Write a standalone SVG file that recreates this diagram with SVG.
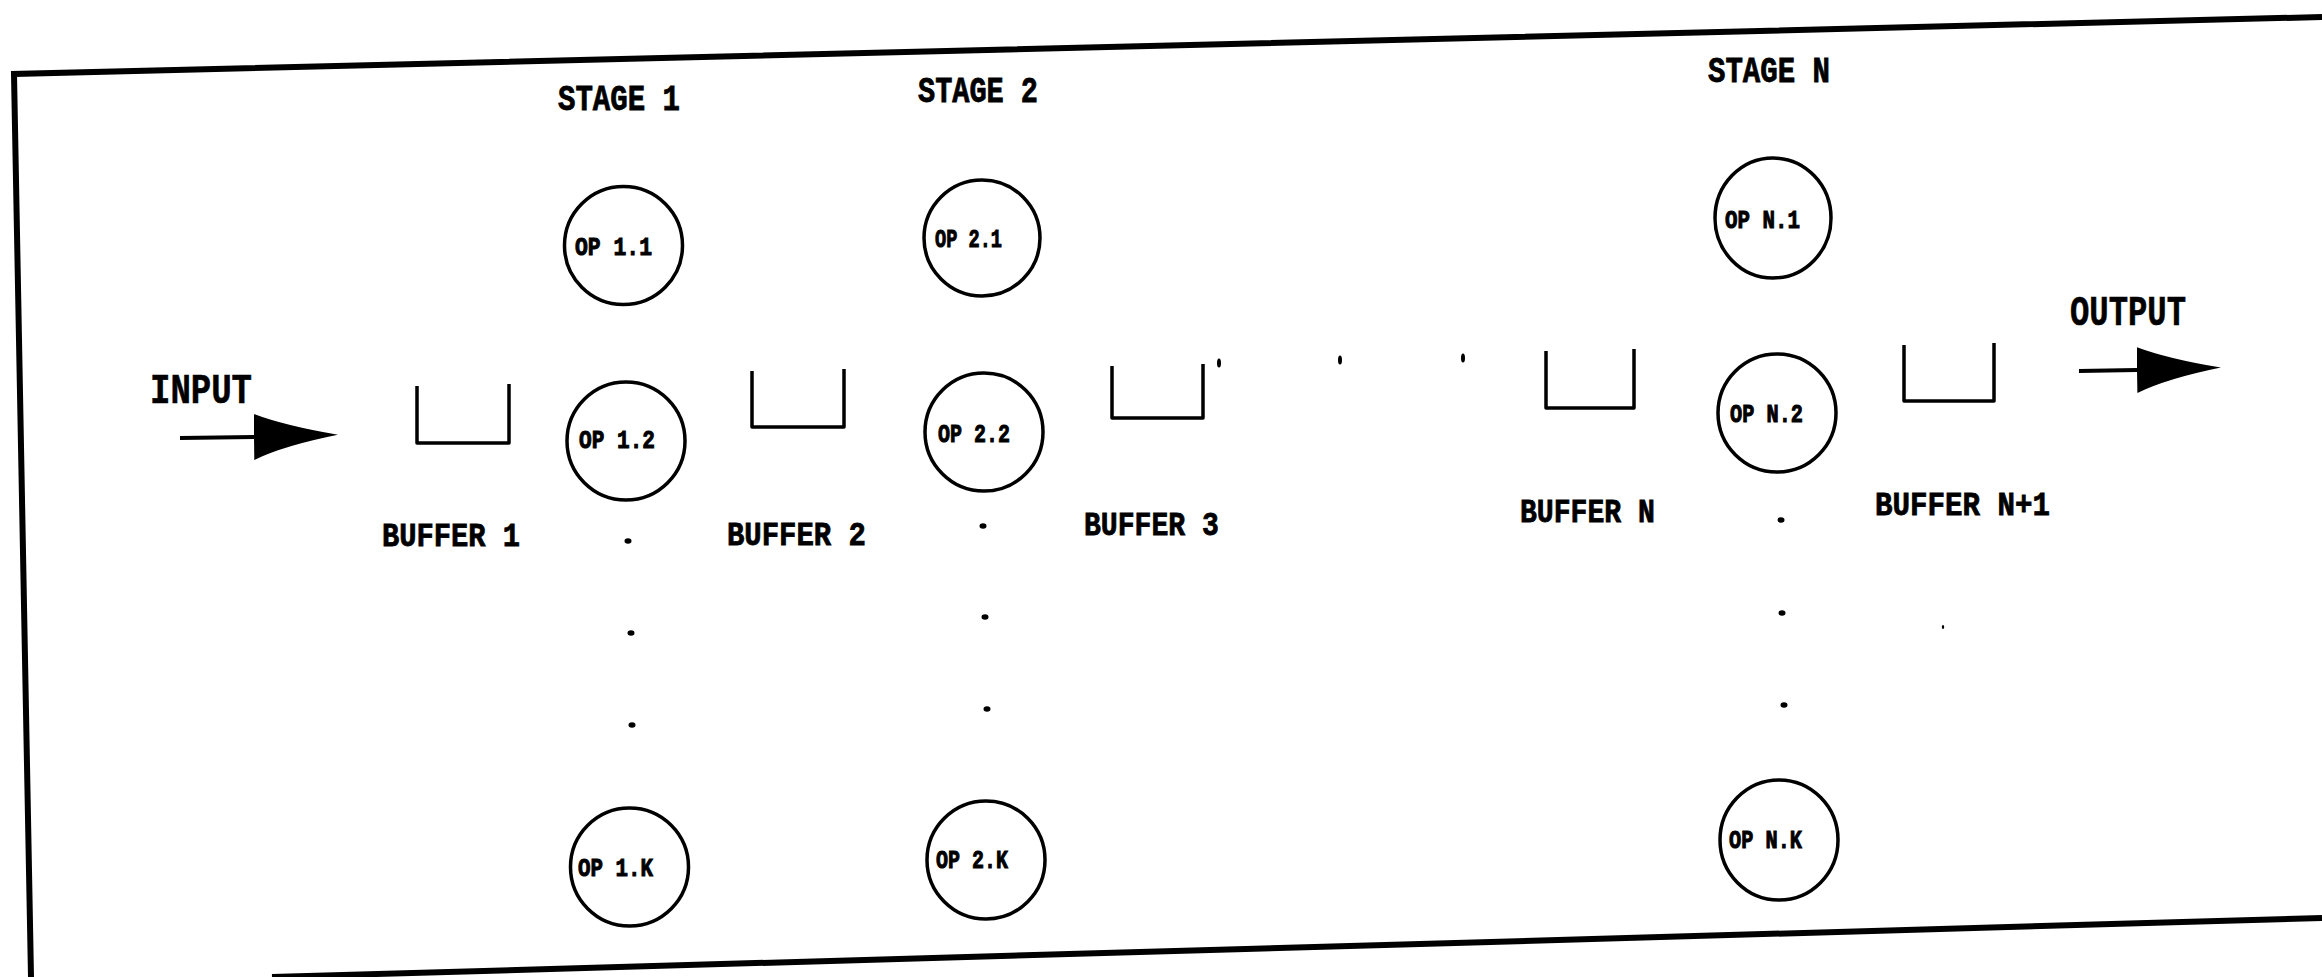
<svg xmlns="http://www.w3.org/2000/svg" width="2322" height="977" viewBox="0 0 2322 977">
<style>
text{font-family:"Liberation Mono","DejaVu Sans Mono",monospace;font-weight:bold;fill:#000;stroke:#000;stroke-width:0.8}
.stage{font-size:36px}
.io{font-size:42px;stroke-width:0.6}
.buf{font-size:34px}
.op{font-size:26px;stroke-width:1}
.opc{fill:none;stroke:#000;stroke-width:3.5}
.bx{fill:none;stroke:#000;stroke-width:3.5;stroke-linejoin:round}
.frame{fill:none;stroke:#000;stroke-width:6}
.dot{fill:#000}
.conn{stroke:#000;stroke-width:4;fill:none}
</style>
<defs>
<marker id="ah" markerUnits="userSpaceOnUse" markerWidth="84" markerHeight="46" viewBox="0 0 84 46" refX="0" refY="23" orient="auto">
<path d="M0,0 Q30,12 84,22 Q30,32 0,46 Z" fill="#000"/>
</marker>
</defs>
<rect width="2322" height="977" fill="#fff"/>
<g id="frame">
<path class="frame" d="M2322,17 L14,74 L31,977"/>
<path class="frame" d="M272,977 L2322,918"/>
</g>
<g id="labels">
<text class="io" x="150" y="403" textLength="102" lengthAdjust="spacingAndGlyphs">INPUT</text>
<text class="io" x="2070" y="325" textLength="116" lengthAdjust="spacingAndGlyphs">OUTPUT</text>
<text class="stage" x="558" y="110" textLength="122" lengthAdjust="spacingAndGlyphs">STAGE 1</text>
<text class="stage" x="918" y="102" textLength="120" lengthAdjust="spacingAndGlyphs">STAGE 2</text>
<text class="stage" x="1708" y="82" textLength="122" lengthAdjust="spacingAndGlyphs">STAGE N</text>
</g>
<g id="buffer1">
<path class="bx" d="M417,386 V443 H509 V384"/>
<text class="buf" x="382" y="546" textLength="138" lengthAdjust="spacingAndGlyphs">BUFFER 1</text>
</g>
<g id="buffer2">
<path class="bx" d="M752,371 V427 H844 V369"/>
<text class="buf" x="727" y="545" textLength="139" lengthAdjust="spacingAndGlyphs">BUFFER 2</text>
</g>
<g id="buffer3">
<path class="bx" d="M1112,366 V418 H1203 V364"/>
<text class="buf" x="1084" y="535" textLength="135" lengthAdjust="spacingAndGlyphs">BUFFER 3</text>
</g>
<g id="bufferN">
<path class="bx" d="M1546,351 V408 H1634 V349"/>
<text class="buf" x="1520" y="522" textLength="135" lengthAdjust="spacingAndGlyphs">BUFFER N</text>
</g>
<g id="bufferN1">
<path class="bx" d="M1904,345 V401 H1994 V343"/>
<text class="buf" x="1875" y="515" textLength="175" lengthAdjust="spacingAndGlyphs">BUFFER N+1</text>
</g>
<g id="op1-1"><circle class="opc" cx="623.5" cy="245.5" r="59"/><text class="op" x="575" y="255" textLength="77" lengthAdjust="spacingAndGlyphs">OP 1.1</text></g>
<g id="op1-2"><circle class="opc" cx="626" cy="441" r="59"/><text class="op" x="579" y="448" textLength="76" lengthAdjust="spacingAndGlyphs">OP 1.2</text></g>
<g id="op1-k"><circle class="opc" cx="629.5" cy="867" r="59"/><text class="op" x="578" y="876" textLength="75" lengthAdjust="spacingAndGlyphs">OP 1.K</text></g>
<g id="op2-1"><circle class="opc" cx="982" cy="238" r="58"/><text class="op" x="935" y="247" textLength="67" lengthAdjust="spacingAndGlyphs">OP 2.1</text></g>
<g id="op2-2"><circle class="opc" cx="984" cy="432" r="59"/><text class="op" x="938" y="442" textLength="72" lengthAdjust="spacingAndGlyphs">OP 2.2</text></g>
<g id="op2-k"><circle class="opc" cx="986" cy="860" r="59"/><text class="op" x="936" y="868" textLength="72" lengthAdjust="spacingAndGlyphs">OP 2.K</text></g>
<g id="opN-1"><ellipse class="opc" cx="1773" cy="218" rx="58" ry="60"/><text class="op" x="1725" y="228" textLength="75" lengthAdjust="spacingAndGlyphs">OP N.1</text></g>
<g id="opN-2"><ellipse class="opc" cx="1777" cy="413" rx="59" ry="59"/><text class="op" x="1730" y="422" textLength="73" lengthAdjust="spacingAndGlyphs">OP N.2</text></g>
<g id="opN-k"><ellipse class="opc" cx="1779" cy="840" rx="59" ry="60"/><text class="op" x="1729" y="848" textLength="73" lengthAdjust="spacingAndGlyphs">OP N.K</text></g>
<g id="ellipsis">
<ellipse class="dot" cx="628" cy="541" rx="3.5" ry="2.8"/>
<ellipse class="dot" cx="631" cy="633" rx="3.5" ry="2.8"/>
<ellipse class="dot" cx="632" cy="725" rx="3.5" ry="2.8"/>
<ellipse class="dot" cx="983" cy="526" rx="3.5" ry="2.8"/>
<ellipse class="dot" cx="985" cy="617" rx="3.5" ry="2.8"/>
<ellipse class="dot" cx="987" cy="709" rx="3.5" ry="2.8"/>
<ellipse class="dot" cx="1781" cy="520" rx="3.5" ry="2.8"/>
<ellipse class="dot" cx="1782" cy="613" rx="3.5" ry="2.8"/>
<ellipse class="dot" cx="1784" cy="705" rx="3.5" ry="2.8"/>
<ellipse class="dot" cx="1943" cy="627" rx="1.2" ry="2"/>
<ellipse class="dot" cx="1219" cy="363" rx="2" ry="4.5"/>
<ellipse class="dot" cx="1340" cy="360" rx="2" ry="4.5"/>
<ellipse class="dot" cx="1463" cy="358" rx="2" ry="4.5"/>
</g>
<g id="connectors">
<path class="conn" d="M180,438 L254,437" marker-end="url(#ah)"/>
<path class="conn" d="M2079,371 L2137,370" marker-end="url(#ah)"/>
</g>
</svg>
